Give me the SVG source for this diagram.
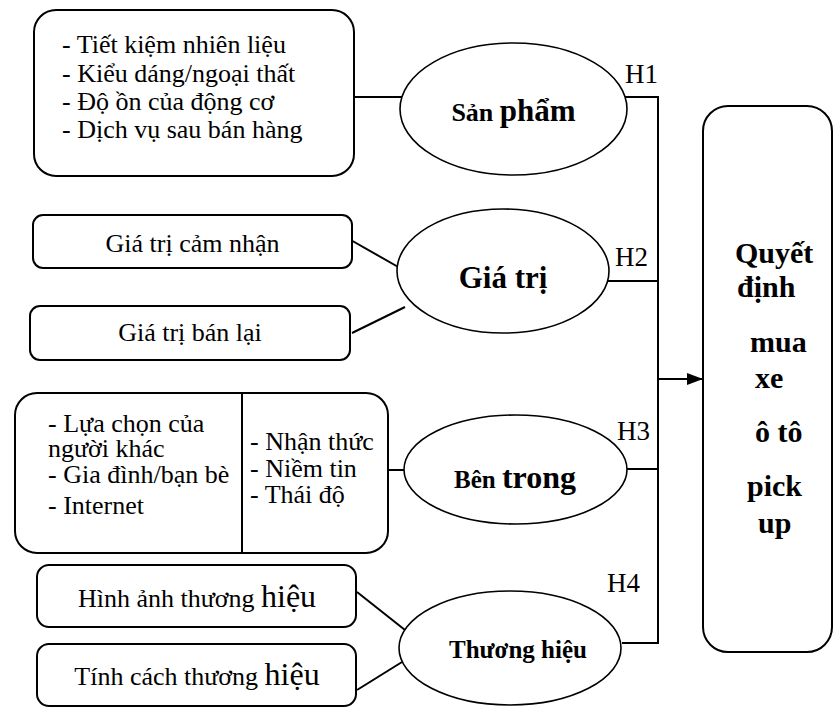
<svg xmlns="http://www.w3.org/2000/svg" width="834" height="709" viewBox="0 0 834 709">
<defs>
<style>
.box{fill:#fff;stroke:#000;stroke-width:2}
.ell{fill:#fff;stroke:#000;stroke-width:1.6}
.ln{fill:none;stroke:#000;stroke-width:2}
.t{font-family:"Liberation Serif","Times New Roman",serif;font-size:26px;fill:#000}
.b{font-family:"Liberation Serif","Times New Roman",serif;font-weight:bold;fill:#000}
.h{font-family:"Liberation Serif","Times New Roman",serif;font-size:27px;fill:#000}
.m{text-anchor:middle}
</style>
<marker id="arr" markerWidth="16" markerHeight="12" refX="16" refY="6" orient="auto" markerUnits="userSpaceOnUse">
<path d="M0,0 L16,6 L0,12 Z" fill="#000"/>
</marker>
</defs>
<rect width="834" height="709" fill="#fff"/>
<g id="connectors">
<line class="ln" x1="354" y1="97" x2="402" y2="97"/>
<polyline class="ln" points="625,97 658,97 658,643 622,643"/>
<line class="ln" x1="608" y1="281" x2="658" y2="281"/>
<line class="ln" x1="627" y1="469" x2="658" y2="469"/>
<line class="ln" x1="349" y1="239" x2="400" y2="268"/>
<line class="ln" x1="352" y1="333" x2="405" y2="307"/>
<line class="ln" x1="388" y1="470" x2="404" y2="470"/>
<line class="ln" x1="357" y1="592" x2="405" y2="630"/>
<line class="ln" x1="357" y1="690" x2="402" y2="662"/>
<line class="ln" x1="658" y1="379" x2="703" y2="379" marker-end="url(#arr)"/>
<text class="h" x="625" y="83">H1</text>
<text class="h" x="615" y="266">H2</text>
<text class="h" x="617" y="440">H3</text>
<text class="h" x="607" y="592">H4</text>
</g>
<g id="box-sanpham">
<rect class="box" x="34" y="10" width="320" height="166" rx="22"/>
<text class="t" x="62" y="53">- Tiết kiệm nhiên liệu</text>
<text class="t" x="62" y="82">- Kiểu dáng/ngoại thất</text>
<text class="t" x="62" y="110">- Độ ồn của động cơ</text>
<text class="t" x="62" y="138">- Dịch vụ sau bán hàng</text>
</g>
<g id="ell-sanpham">
<ellipse class="ell" cx="513.5" cy="109" rx="113.5" ry="66"/>
<text class="b m" x="513.5" y="121"><tspan font-size="26">Sản </tspan><tspan font-size="31">phẩm</tspan></text>
</g>
<g id="box-camnhan">
<rect class="box" x="33" y="215" width="319" height="53" rx="10"/>
<text class="t m" x="192.5" y="252">Giá trị cảm nhận</text>
</g>
<g id="box-banlai">
<rect class="box" x="30" y="306" width="320" height="54" rx="10"/>
<text class="t m" x="190" y="341">Giá trị bán lại</text>
</g>
<g id="ell-giatri">
<ellipse class="ell" cx="503" cy="271" rx="106" ry="62"/>
<text class="b m" x="503" y="288" font-size="31">Giá trị</text>
</g>
<g id="box-bentrong">
<rect class="box" x="15" y="393" width="373" height="160" rx="22"/>
<line class="ln" x1="242" y1="393" x2="242" y2="553"/>
<text class="t" x="48" y="432">- Lựa chọn của</text>
<text class="t" x="48" y="457">người khác</text>
<text class="t" x="48" y="483">- Gia đình/bạn bè</text>
<text class="t" x="48" y="514">- Internet</text>
<text class="t" x="250" y="450">- Nhận thức</text>
<text class="t" x="250" y="477">- Niềm tin</text>
<text class="t" x="250" y="503">- Thái độ</text>
</g>
<g id="ell-bentrong">
<ellipse class="ell" cx="515.5" cy="469.5" rx="111.5" ry="54.5"/>
<text class="b m" x="515" y="488"><tspan font-size="25">Bên </tspan><tspan font-size="32">trong</tspan></text>
</g>
<g id="box-hinhanh">
<rect class="box" x="37" y="565" width="319" height="62" rx="12"/>
<text class="t m" x="197" y="607">Hình ảnh thương <tspan font-size="32">hiệu</tspan></text>
</g>
<g id="box-tinhcach">
<rect class="box" x="37" y="644" width="319" height="62" rx="12"/>
<text class="t m" x="197" y="685">Tính cách thương <tspan font-size="32">hiệu</tspan></text>
</g>
<g id="ell-thuonghieu">
<ellipse class="ell" cx="510" cy="648" rx="111" ry="57"/>
<text class="b m" x="518" y="658" font-size="25">Thương hiệu</text>
</g>
<g id="box-quyetdinh">
<rect class="box" x="703" y="106" width="129" height="546" rx="25"/>
<text class="b" x="735" y="263" font-size="30">Quyết</text>
<text class="b" x="737" y="297" font-size="30">định</text>
<text class="b" x="750" y="352" font-size="30">mua</text>
<text class="b" x="755" y="388" font-size="30">xe</text>
<text class="b" x="755" y="442" font-size="30">ô tô</text>
<text class="b" x="747" y="496" font-size="30">pick</text>
<text class="b" x="758" y="533" font-size="30">up</text>
</g>
</svg>
